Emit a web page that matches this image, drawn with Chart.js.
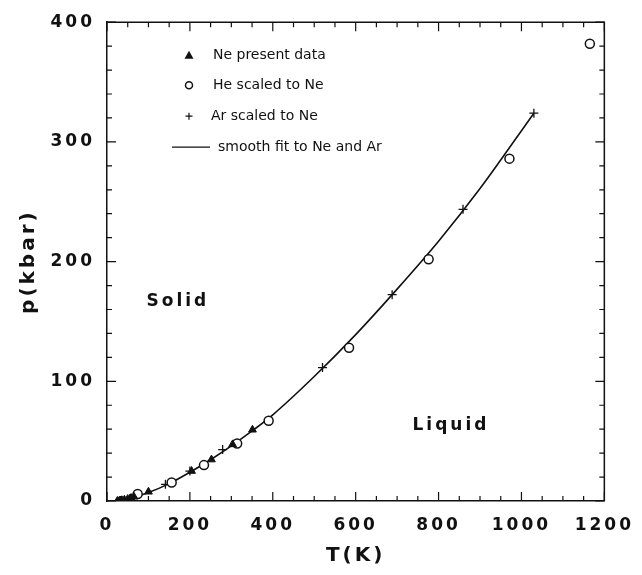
<!DOCTYPE html>
<html>
<head>
<meta charset="utf-8">
<script src="https://cdn.jsdelivr.net/npm/chart.js@4.4.1/dist/chart.umd.min.js"></script>
<style>
  html, body { margin: 0; padding: 0; background: #fff; }
  #wrap { width: 642px; height: 575px; }
</style>
</head>
<body>
<div id="wrap"><canvas id="chart" width="642" height="575"></canvas></div>
<script>
// Ne present data (T in K, p in kbar)
var neT = [25, 30, 36, 42, 50, 58, 65, 100, 204, 252, 303, 351];
var neP = [0, 0.3, 0.6, 1, 1.6, 2.5, 3.5, 7.7, 25, 34.6, 47.3, 59.5];
// He scaled to Ne
var heT = [74, 156, 234, 314, 390, 584, 776, 971, 1165];
var heP = [5.8, 15.4, 30, 48, 67, 128, 202, 286, 382];
// Ar scaled to Ne
var arT = [33, 55, 141, 200, 279, 520, 688, 859, 1030];
var arP = [0.4, 2, 13.9, 25, 43, 111.5, 172.4, 243.7, 324];
// smooth fit to Ne and Ar
var fitT = [24, 50, 100, 150, 200, 250, 300, 350, 400, 500, 600, 700, 800, 900, 1030];
var fitP = [0, 1.5, 7, 14.5, 24, 34.5, 46, 58.5, 72, 104, 139, 177, 217, 261, 324];

var xTicks = [0, 200, 400, 600, 800, 1000, 1200];
var yTicks = [0, 100, 200, 300, 400];

var regionText = ["Solid", "Liquid"];
var regionT = [171, 830];
var regionP = [167, 63];

var legendText = ["Ne present data", "He scaled to Ne", "Ar scaled to Ne", "smooth fit to Ne and Ar"];

var ink = "#111";

function pairs(xs, ys) {
  return xs.map(function (x, i) { return { x: x, y: ys[i] }; });
}

// inward ticks on all four sides plus the top/right frame
var frameTicks = {
  id: "frameTicks",
  beforeDraw: function (chart) {
    chart.ctx.letterSpacing = "3px";
  },
  beforeDatasetsDraw: function (chart) {
    chart.ctx.letterSpacing = "0px";
  },
  afterDraw: function (chart) {
    var ctx = chart.ctx;
    var a = chart.chartArea;
    var xs = chart.scales.x, ys = chart.scales.y;
    ctx.save();
    ctx.letterSpacing = "0px";
    ctx.strokeStyle = ink;
    ctx.lineWidth = 1.5;
    ctx.beginPath();
    ctx.moveTo(a.left, a.top);
    ctx.lineTo(a.right, a.top);
    ctx.lineTo(a.right, a.bottom);
    ctx.stroke();

    ctx.lineWidth = 1.2;
    ctx.beginPath();
    for (var v = 0; v <= 1200; v += 50) {
      var px = xs.getPixelForValue(v);
      var len = v % 200 === 0 ? 9 : 5;
      ctx.moveTo(px, a.bottom);
      ctx.lineTo(px, a.bottom - len);
      ctx.moveTo(px, a.top);
      ctx.lineTo(px, a.top + len);
    }
    for (var w = 0; w <= 400; w += 20) {
      var py = ys.getPixelForValue(w);
      var l2 = w % 100 === 0 ? 9 : 5;
      ctx.moveTo(a.left, py);
      ctx.lineTo(a.left + l2, py);
      ctx.moveTo(a.right, py);
      ctx.lineTo(a.right - l2, py);
    }
    ctx.stroke();

    // region labels
    ctx.fillStyle = ink;
    ctx.font = "bold 17px 'DejaVu Sans'";
    ctx.letterSpacing = "3px";
    ctx.textAlign = "center";
    ctx.textBaseline = "middle";
    regionText.forEach(function (t, i) {
      ctx.fillText(t, xs.getPixelForValue(regionT[i]), ys.getPixelForValue(regionP[i]));
    });

    // legend in the upper left of the plot
    ctx.letterSpacing = "0px";
    ctx.font = "14px 'DejaVu Sans'";
    ctx.textAlign = "left";
    var sx = a.left + 82;
    var rows = [a.top + 33, a.top + 63, a.top + 94, a.top + 125];
    ctx.beginPath();
    ctx.moveTo(sx, rows[0] - 4.5);
    ctx.lineTo(sx + 4.5, rows[0] + 3.5);
    ctx.lineTo(sx - 4.5, rows[0] + 3.5);
    ctx.closePath();
    ctx.fill();
    ctx.lineWidth = 1.5;
    ctx.beginPath();
    ctx.arc(sx, rows[1], 3.5, 0, Math.PI * 2);
    ctx.stroke();
    ctx.lineWidth = 1.2;
    ctx.beginPath();
    ctx.moveTo(sx - 3.5, rows[2]);
    ctx.lineTo(sx + 3.5, rows[2]);
    ctx.moveTo(sx, rows[2] - 3.5);
    ctx.lineTo(sx, rows[2] + 3.5);
    ctx.stroke();
    ctx.beginPath();
    ctx.moveTo(a.left + 65, rows[3]);
    ctx.lineTo(a.left + 103, rows[3]);
    ctx.stroke();
    ctx.fillText(legendText[0], a.left + 106, rows[0]);
    ctx.fillText(legendText[1], a.left + 106, rows[1]);
    ctx.fillText(legendText[2], a.left + 104, rows[2]);
    ctx.fillText(legendText[3], a.left + 111, rows[3]);
    ctx.restore();
  }
};

var tickFont = { family: "'DejaVu Sans'", size: 17, weight: "bold" };
var titleFont = { family: "'DejaVu Sans'", size: 20, weight: "bold" };

function plainLabel(value) {
  return String(value);
}

new Chart(document.getElementById("chart"), {
  type: "scatter",
  data: {
    datasets: [
      {
        label: legendText[0],
        data: pairs(neT, neP),
        pointStyle: "triangle",
        pointRadius: 4.5,
        backgroundColor: ink,
        borderColor: ink,
        borderWidth: 1,
        order: 1
      },
      {
        label: legendText[1],
        data: pairs(heT, heP),
        pointStyle: "circle",
        pointRadius: 4.5,
        backgroundColor: "#fff",
        borderColor: ink,
        borderWidth: 1.5,
        order: 2
      },
      {
        label: legendText[2],
        data: pairs(arT, arP),
        pointStyle: "cross",
        pointRadius: 4.5,
        borderColor: ink,
        borderWidth: 1.3,
        order: 3
      },
      {
        label: legendText[3],
        data: pairs(fitT, fitP),
        showLine: true,
        pointRadius: 0,
        borderColor: ink,
        borderWidth: 1.6,
        cubicInterpolationMode: "monotone",
        order: 4
      }
    ]
  },
  options: {
    responsive: false,
    animation: false,
    devicePixelRatio: 1,
    layout: { padding: { left: 0, right: 37, top: 19, bottom: 0 } },
    plugins: {
      legend: { display: false },
      tooltip: { enabled: false }
    },
    scales: {
      x: {
        type: "linear",
        min: 0,
        max: 1200,
        afterBuildTicks: function (scale) {
          scale.ticks = xTicks.map(function (v) { return { value: v }; });
        },
        afterFit: function (scale) { scale.height = 74; },
        grid: { display: false, drawTicks: false },
        border: { display: true, color: ink, width: 1.5 },
        ticks: { color: ink, font: tickFont, padding: 14, maxRotation: 0, callback: plainLabel },
        title: { display: true, text: "T(K)", color: ink, font: titleFont, padding: { top: 0, bottom: 7 } }
      },
      y: {
        type: "linear",
        min: 0,
        max: 400,
        afterBuildTicks: function (scale) {
          scale.ticks = yTicks.map(function (v) { return { value: v }; });
        },
        afterFit: function (scale) { scale.width = 107; },
        grid: { display: false, drawTicks: false },
        border: { display: true, color: ink, width: 1.5 },
        ticks: { color: ink, font: tickFont, padding: 12, callback: plainLabel },
        title: { display: true, text: "p(kbar)", color: ink, font: titleFont, padding: { top: 17, bottom: 0 } }
      }
    }
  },
  plugins: [frameTicks]
});
</script>
</body>
</html>
